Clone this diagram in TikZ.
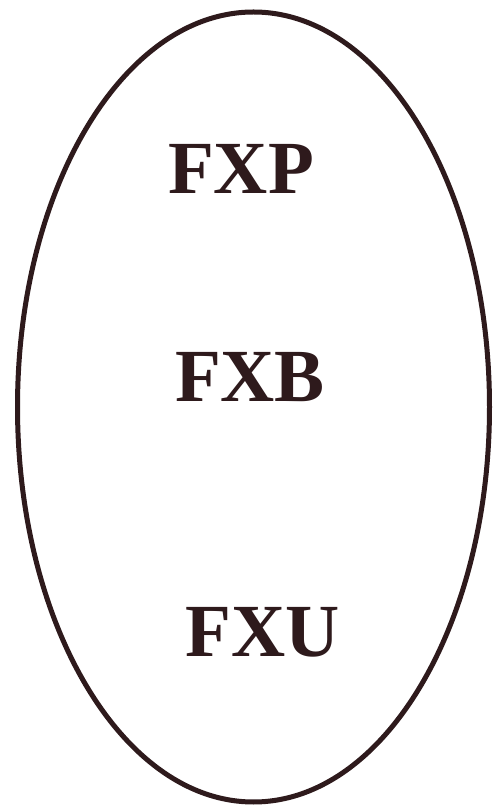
\documentclass[tikz,border=0pt]{standalone}
\usepackage{fontspec}
\setmainfont{Liberation Serif}
\definecolor{ink}{HTML}{2E1A1C}
\begin{document}
\begin{tikzpicture}[x=1pt,y=1pt,
  lbl/.style={anchor=base,inner sep=0pt,text=ink,font=\bfseries\fontsize{75}{80}\selectfont}]
\useasboundingbox (0,0) rectangle (493,807);
\fill[white] (0,0) rectangle (493,807);
\draw[ink,line width=5pt] (253.5,400) ellipse [x radius=236, y radius=395];
\node[lbl] (fxp) at (241,613) {FXP};
\node[lbl] (fxb) at (250,405) {FXB};
\node[lbl] (fxu) at (263,150) {FXU};
\end{tikzpicture}
\end{document}
